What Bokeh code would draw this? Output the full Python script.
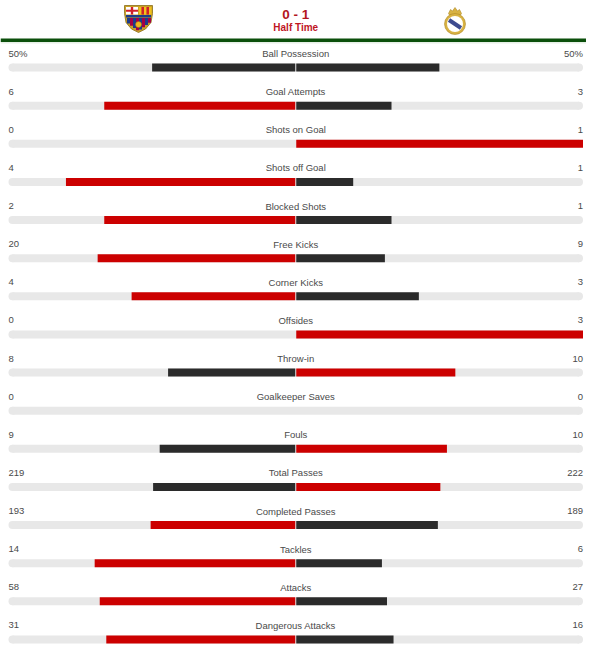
from bokeh.plotting import figure
from bokeh.models import Range1d
from bokeh.core.properties import value
from bokeh.embed import file_html
from bokeh.resources import INLINE

# ---------------- data ----------------
stats = ["Ball Possession", "Goal Attempts", "Shots on Goal", "Shots off Goal",
         "Blocked Shots", "Free Kicks", "Corner Kicks", "Offsides", "Throw-in",
         "Goalkeeper Saves", "Fouls", "Total Passes", "Completed Passes",
         "Tackles", "Attacks", "Dangerous Attacks"]
home = [50, 6, 0, 4, 2, 20, 4, 0, 8, 0, 9, 219, 193, 14, 58, 31]
away = [50, 3, 1, 1, 1, 9, 3, 3, 10, 0, 10, 222, 189, 6, 27, 16]
home_text = ["50%", "6", "0", "4", "2", "20", "4", "0", "8", "0", "9", "219", "193", "14", "58", "31"]
away_text = ["50%", "3", "1", "1", "1", "9", "3", "3", "10", "0", "10", "222", "189", "6", "27", "16"]
score = "0 - 1"
status = "Half Time"

# ---------------- layout ----------------
W, H = 586, 646
RED = "#cc0000"
DARK = "#2b2b2b"
TRACK = "#e8e8e8"
TXT = "#4a4a4a"
FONT = value("Liberation Sans")

LEFT, RIGHT = 8.0, 582.5
C = (LEFT + RIGHT) / 2
HW = (RIGHT - LEFT) / 2
ROW0, STEP = 67.0, 38.13
BH = 8

p = figure(width=W, height=H, x_range=Range1d(0, W), y_range=Range1d(H, 0),
           output_backend="svg", toolbar_location=None, min_border=0,
           x_axis_type=None, y_axis_type=None)
p.grid.visible = False
p.outline_line_color = None
p.background_fill_color = "white"
p.border_fill_color = "white"

n = len(stats)
bar_y = [ROW0 + STEP * i for i in range(n)]
lab_y = [y - 14 for y in bar_y]

# tracks
p.quad(left=[LEFT + 4] * n, right=[RIGHT - 4] * n,
       top=[y - BH / 2 for y in bar_y], bottom=[y + BH / 2 for y in bar_y],
       fill_color=TRACK, line_color=None)
p.scatter(x=[LEFT + 4] * n + [RIGHT - 4] * n, y=bar_y + bar_y, size=BH,
          fill_color=TRACK, line_color=None)

# bars
l_left, l_right, l_col, r_left, r_right, r_col, by_l, by_r = [], [], [], [], [], [], [], []
for h, a, y in zip(home, away, bar_y):
    tot = h + a
    if tot == 0:
        continue
    if h > a:
        hc, ac = RED, DARK
    elif a > h:
        hc, ac = DARK, RED
    else:
        hc, ac = DARK, DARK
    if h > 0:
        l_left.append(C - h / tot * HW); l_right.append(C - 0.5); l_col.append(hc); by_l.append(y)
    if a > 0:
        r_left.append(C + 0.5); r_right.append(C + a / tot * HW); r_col.append(ac); by_r.append(y)

p.quad(left=l_left, right=l_right, top=[y - BH / 2 for y in by_l],
       bottom=[y + BH / 2 for y in by_l], fill_color=l_col, line_color=None)
p.quad(left=r_left, right=r_right, top=[y - BH / 2 for y in by_r],
       bottom=[y + BH / 2 for y in by_r], fill_color=r_col, line_color=None)

# texts
p.text(x=[LEFT] * n, y=lab_y, text=home_text, text_font=FONT, text_font_size="9.5px",
       text_color=TXT, text_align="left", text_baseline="middle")
p.text(x=[RIGHT] * n, y=lab_y, text=away_text, text_font=FONT, text_font_size="9.5px",
       text_color=TXT, text_align="right", text_baseline="middle")
p.text(x=[C] * n, y=lab_y, text=stats, text_font=FONT, text_font_size="9.5px",
       text_color=TXT, text_align="center", text_baseline="middle")

# header
p.text(x=[C], y=[14], text=[score], text_font=FONT, text_font_size="13.5px",
       text_font_style="bold", text_color="#b3161f", text_align="center", text_baseline="middle")
p.text(x=[C], y=[27], text=[status], text_font=FONT, text_font_size="10px",
       text_font_style="bold", text_color="#c0161f", text_align="center", text_baseline="middle")

# green separator
p.quad(left=[0], right=[592], top=[38], bottom=[41.5], fill_color="#0b4f0b", line_color=None)
p.quad(left=[0], right=[592], top=[41.5], bottom=[43], fill_color="#e6efe6", line_color=None)

# ---- Barcelona crest (approximation) ----
bx = [124, 152, 152, 150.5, 145, 138, 131, 125.5, 124]
by = [5, 5, 13, 22, 28.5, 32, 28.5, 22, 13]
p.patch(bx, by, fill_color="#c9a227", line_color="#8a6d1a", line_width=0.8)
p.quad(left=[125.5], right=[137.5], top=[6.5], bottom=[14], fill_color="white", line_color=None)
p.quad(left=[130.3, 125.5], right=[132.7, 137.5], top=[6.5, 9.2], bottom=[14, 11.3],
       fill_color="#d01f2a", line_color=None)
sx = [138.5 + 2.5 * k for k in range(5)]
p.quad(left=sx, right=[s + 2.5 for s in sx], top=[6.5] * 5, bottom=[14] * 5,
       fill_color=["#f2c21b", "#d01f2a", "#f2c21b", "#d01f2a", "#f2c21b"], line_color=None)
p.quad(left=[125.5], right=[150.5], top=[14.5], bottom=[17], fill_color="#1d3b8a", line_color=None)
stripe_l = [126.5 + 3 * k for k in range(8)]
stripe_b = []
for s in stripe_l:
    xm = s + 1.5
    d = abs(xm - 138)
    stripe_b.append(30.5 - d * 0.75)
p.quad(left=stripe_l, right=[s + 3 for s in stripe_l], top=[17.5] * 8, bottom=stripe_b,
       fill_color=["#1d3b8a", "#a50044"] * 4, line_color=None)
p.scatter(x=[138], y=[24], size=6, fill_color="#f2b61b", line_color="#8a6d1a", line_width=0.5)

# ---- Real Madrid crest (approximation) ----
p.patch([448, 450, 452, 454.5, 457, 459, 461, 460, 449],
        [13, 9, 10.5, 7, 10.5, 9, 13, 14.5, 14.5],
        fill_color="#d8b243", line_color="#b08a25", line_width=0.6)
p.scatter(x=[454.5], y=[23.5], size=21, fill_color="#d8b243", line_color="#b08a25", line_width=0.6)
p.scatter(x=[454.5], y=[23.5], size=16, fill_color="white", line_color=None)
p.segment(x0=[448.5], y0=[19.5], x1=[460.5], y1=[27.5], line_color="#3d4b8f", line_width=4)

open("out.html", "w").write(file_html(p, INLINE))
